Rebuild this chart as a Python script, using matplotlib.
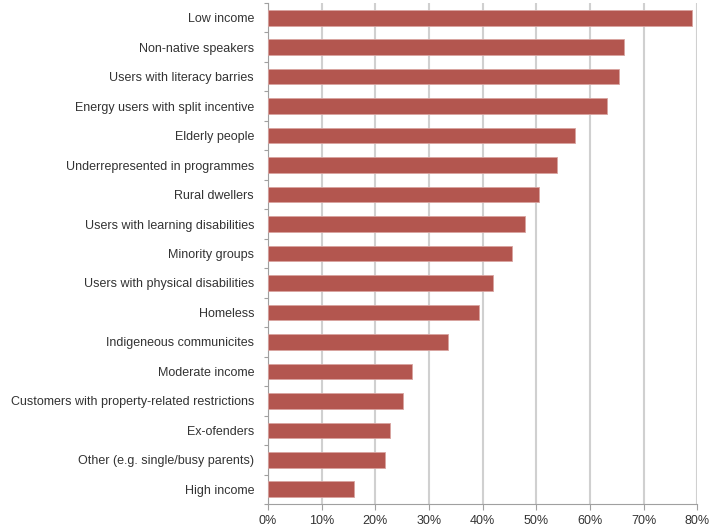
import matplotlib
matplotlib.use("Agg")
import matplotlib.pyplot as plt
import numpy as np

plt.rcParams['font.family'] = ['Liberation Sans', 'DejaVu Sans']

categories = [
    "Low income",
    "Non-native speakers",
    "Users with literacy barries",
    "Energy users with split incentive",
    "Elderly people",
    "Underrepresented in programmes",
    "Rural dwellers",
    "Users with learning disabilities",
    "Minority groups",
    "Users with physical disabilities",
    "Homeless",
    "Indigeneous communicites",
    "Moderate income",
    "Customers with property-related restrictions",
    "Ex-ofenders",
    "Other (e.g. single/busy parents)",
    "High income",
]
values = [79.0, 66.4, 65.5, 63.1, 57.3, 53.9, 50.5, 47.8, 45.4, 42.0, 39.4, 33.6,
          26.9, 25.2, 22.8, 21.8, 16.0]
xticks = [0, 10, 20, 30, 40, 50, 60, 70, 80]
xticklabels = ["0%", "10%", "20%", "30%", "40%", "50%", "60%", "70%", "80%"]

fig = plt.figure(figsize=(7.10, 5.29), dpi=100)
ax = fig.add_axes([268/710, 1 - 504/529, (697.3-268)/710, (504-3)/529])

n = len(categories)
y = np.arange(n)
ax.barh(y, values, height=0.53, color='#b3564f', edgecolor='#d8a3a0',
        linewidth=0.6, zorder=3)

ax.set_ylim(n - 0.5, -0.5)
ax.set_xlim(0, 80)
ax.set_yticks(y)
ax.set_yticklabels(categories, fontsize=9, color='#333333')
ax.set_yticks(np.arange(-0.5, n, 1.0), minor=True)
ax.tick_params(axis='y', which='major', length=0, pad=10)
ax.tick_params(axis='y', which='minor', length=3, width=0.8, color='#a0a0a0', direction='out')
ax.set_xticks(xticks)
ax.set_xticklabels(xticklabels, fontsize=9, color='#333333')
ax.tick_params(axis='x', which='major', length=4, width=0.8, color='#a0a0a0', direction='out', pad=4)

ax.grid(axis='x', color='#d0d0d0', linewidth=1.5, zorder=0)
ax.set_axisbelow(True)
for s in ['top', 'right']:
    ax.spines[s].set_visible(False)
for s in ['left', 'bottom']:
    ax.spines[s].set_color('#a0a0a0')
    ax.spines[s].set_linewidth(0.8)

fig.savefig("out.png", dpi=100)
